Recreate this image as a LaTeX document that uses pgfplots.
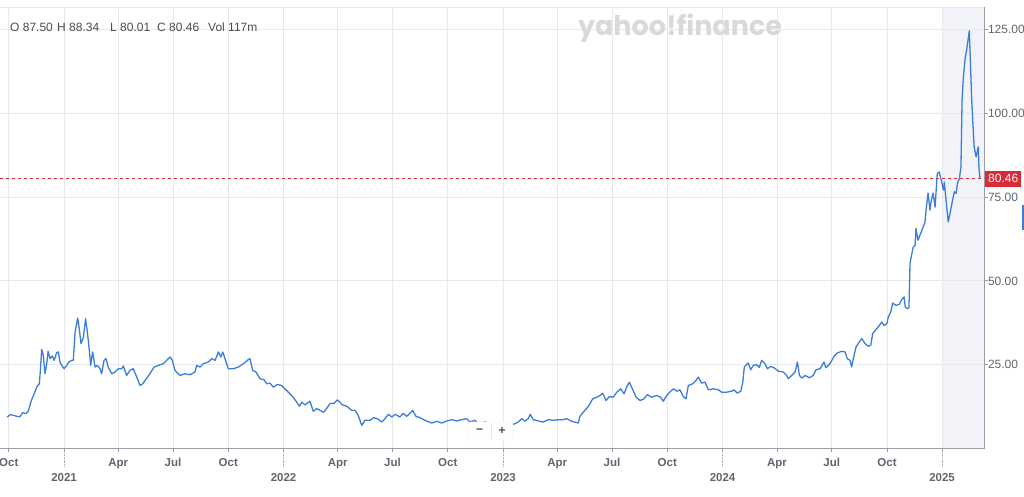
\documentclass[border=0pt]{standalone}
\usepackage{pgfplots}
\pgfplotsset{compat=1.18}
\usepackage{fontspec}
\setmainfont{Liberation Sans}
\newfontfamily\wmfont{Poppins}
\definecolor{gridc}{HTML}{E8E9EA}
\definecolor{axisc}{HTML}{9A9DA1}
\definecolor{labc}{HTML}{5F666E}
\definecolor{linec}{HTML}{3C7DD9}
\definecolor{redc}{HTML}{D72B35}
\definecolor{shadec}{HTML}{F1F3F8}
\definecolor{ohlc}{HTML}{474D54}
\definecolor{wmc}{HTML}{D8D9DB}
% x = years since 1 Jan 2020
\pgfplotstableread{
x y
0.741 9.35
0.754 10.1
0.769 9.9
0.784 9.6
0.799 9.5
0.811 10.7
0.826 10.4
0.837 11.1
0.848 13.8
0.857 15.3
0.864 16.3
0.872 17.8
0.880 18.8
0.887 19.3
0.892 23.3
0.898 29.6
0.905 27.8
0.913 22.3
0.921 25.3
0.927 29.0
0.936 26.8
0.946 27.6
0.955 26.3
0.966 28.6
0.974 28.8
0.981 25.8
0.989 24.8
1.000 23.8
1.012 24.8
1.022 25.8
1.035 26.3
1.042 26.3
1.050 34.7
1.062 38.9
1.069 35.8
1.077 31.3
1.088 33.2
1.098 38.7
1.106 34.7
1.115 29.3
1.121 24.8
1.130 28.8
1.141 24.3
1.151 24.8
1.164 23.8
1.171 22.3
1.182 26.3
1.191 26.8
1.201 24.3
1.217 22.3
1.232 22.8
1.247 23.8
1.262 23.8
1.270 24.6
1.285 21.8
1.300 23.3
1.315 23.8
1.331 21.3
1.346 18.8
1.358 19.3
1.369 20.3
1.391 22.3
1.410 24.3
1.429 24.8
1.452 25.3
1.467 26.3
1.483 27.3
1.493 26.3
1.505 23.3
1.528 21.8
1.551 22.3
1.574 22.0
1.596 22.8
1.604 24.8
1.619 24.3
1.634 25.3
1.657 25.8
1.673 26.8
1.688 26.3
1.703 28.8
1.714 27.3
1.723 28.8
1.733 26.8
1.748 23.8
1.771 23.8
1.794 24.3
1.817 25.3
1.839 26.5
1.847 26.8
1.859 23.3
1.874 22.8
1.893 20.8
1.911 20.5
1.923 19.3
1.938 19.5
1.953 18.3
1.971 19.1
1.991 18.8
2.006 17.8
2.026 16.5
2.044 15.3
2.060 13.8
2.072 12.6
2.083 13.8
2.098 13.0
2.120 14.1
2.135 11.1
2.151 11.9
2.166 11.4
2.181 10.8
2.196 11.9
2.211 13.4
2.230 13.5
2.245 14.5
2.254 14.0
2.265 13.1
2.288 12.6
2.310 11.4
2.325 11.4
2.340 9.9
2.356 6.9
2.371 8.4
2.394 8.4
2.409 9.2
2.427 8.9
2.447 7.9
2.462 8.9
2.477 10.2
2.493 9.4
2.508 10.2
2.530 9.4
2.545 10.5
2.561 9.6
2.576 10.5
2.588 11.4
2.603 9.6
2.621 9.2
2.644 8.4
2.675 7.6
2.698 8.1
2.720 7.6
2.743 8.2
2.766 8.6
2.789 8.2
2.812 8.6
2.834 8.9
2.849 7.9
2.872 8.4
2.887 7.4
2.918 7.9
2.950 7.2
2.986 6.2
3.017 6.9
3.047 7.2
3.069 7.9
3.085 8.9
3.100 8.2
3.115 8.9
3.123 10.2
3.138 8.6
3.161 8.2
3.183 7.9
3.206 8.6
3.229 8.4
3.252 8.6
3.274 8.6
3.290 8.9
3.313 8.1
3.343 7.6
3.350 9.6
3.373 11.4
3.388 12.5
3.408 14.8
3.427 15.3
3.442 15.8
3.454 16.5
3.469 14.3
3.484 15.5
3.502 15.3
3.518 16.8
3.536 17.8
3.551 16.3
3.563 18.3
3.575 19.8
3.591 17.5
3.606 15.3
3.624 14.3
3.642 14.8
3.657 16.1
3.677 15.3
3.700 15.8
3.718 15.3
3.730 14.1
3.745 15.8
3.764 17.1
3.776 17.8
3.791 17.1
3.806 17.5
3.821 15.5
3.833 14.8
3.844 18.8
3.864 19.3
3.879 20.3
3.889 21.3
3.905 19.5
3.920 19.8
3.935 17.5
3.958 17.8
3.981 17.5
3.996 16.8
4.019 16.8
4.042 17.1
4.052 17.5
4.067 16.5
4.083 17.1
4.092 19.8
4.099 24.3
4.110 25.1
4.117 25.5
4.128 23.5
4.140 24.8
4.155 25.0
4.167 24.2
4.178 26.3
4.193 25.3
4.204 23.8
4.219 24.5
4.234 24.1
4.254 23.1
4.277 22.8
4.292 21.8
4.299 20.8
4.315 21.8
4.330 22.8
4.341 25.8
4.350 21.8
4.361 21.0
4.376 21.8
4.395 21.1
4.413 21.8
4.426 23.5
4.444 23.8
4.462 25.8
4.471 24.1
4.489 25.3
4.508 27.5
4.523 28.5
4.543 29.0
4.558 28.8
4.568 26.8
4.581 26.3
4.588 24.3
4.599 27.8
4.608 30.3
4.623 31.8
4.634 32.8
4.649 31.3
4.664 30.5
4.675 30.8
4.684 34.3
4.699 35.5
4.714 36.7
4.725 37.7
4.735 36.7
4.748 37.2
4.755 39.2
4.766 40.7
4.775 43.4
4.790 42.7
4.805 43.0
4.816 44.4
4.827 45.2
4.832 42.2
4.842 41.7
4.849 42.0
4.854 55.3
4.868 60.0
4.877 60.6
4.881 65.7
4.890 62.1
4.908 65.1
4.922 67.5
4.927 71.1
4.936 76.2
4.945 71.1
4.951 74.0
4.959 76.2
4.968 72.0
4.978 82.0
4.987 82.5
4.998 79.5
5.006 77.1
5.010 79.5
5.021 72.1
5.028 67.6
5.036 70.1
5.048 74.1
5.056 76.6
5.064 76.1
5.070 79.1
5.079 80.6
5.086 84.0
5.091 103.9
5.097 110.9
5.105 116.4
5.112 118.9
5.124 124.6
5.135 103.9
5.146 90.0
5.155 87.0
5.165 90.0
5.168 83.5
5.173 80.5
}\price
\begin{document}
\begin{tikzpicture}[x=1pt,y=1pt]
\begin{axis}[
  set layers=standard,
  scale only axis, width=984pt, height=441.5pt,
  at={(0pt,48.5pt)}, anchor=south west,
  xmin=0.708, xmax=5.191, ymin=0, ymax=131.7,
  clip=false,
  axis line style={draw=none},
  xtick={0.748,1.247,1.496,1.748,2.247,2.496,2.748,3.247,3.496,3.748,4.248,4.497,4.749},
  xticklabels={Oct,Apr,Jul,Oct,Apr,Jul,Oct,Apr,Jul,Oct,Apr,Jul,Oct},
  extra x ticks={1,2,3,4,5},
  extra x tick labels={2021,2022,2023,2024,2025},
  extra x tick style={grid=major, xticklabel style={yshift=-14.5pt}},
  xtick pos=bottom, ytick pos=right,
  tick align=outside,
  major tick length=4pt,
  tick style={color=axisc, line width=0.8pt},
  ytick={25,50,75,100,125},
  yticklabel pos=right,
  yticklabel={\pgfmathprintnumber[fixed,fixed zerofill,precision=2]{\tick}},
  /pgf/number format/assume math mode=true,
  grid=major, major grid style={gridc, line width=0.8pt},
  xticklabel style={font=\fontsize{11.5}{13}\selectfont\bfseries, text=labc, anchor=north, yshift=-2.5pt},
  yticklabel style={font=\fontsize{12}{13}\selectfont, text=labc, anchor=west, xshift=-3.5pt},
]
\begin{pgfonlayer}{axis background}
\fill[shadec] (axis cs:5,0) rectangle (axis cs:5.191,131.7);
\end{pgfonlayer}
\draw[gridc, line width=0.8pt] (rel axis cs:0,1) -- (rel axis cs:1,1);
\draw[axisc, line width=1pt] (rel axis cs:0,0) -- (rel axis cs:1,0) -- (rel axis cs:1,1);
\draw[axisc, densely dotted, line width=0.8pt] ([yshift=-5pt]axis cs:1,0) -- ([yshift=-18pt]axis cs:1,0);
\draw[axisc, densely dotted, line width=0.8pt] ([yshift=-5pt]axis cs:2,0) -- ([yshift=-18pt]axis cs:2,0);
\draw[axisc, densely dotted, line width=0.8pt] ([yshift=-5pt]axis cs:3,0) -- ([yshift=-18pt]axis cs:3,0);
\draw[axisc, densely dotted, line width=0.8pt] ([yshift=-5pt]axis cs:4,0) -- ([yshift=-18pt]axis cs:4,0);
\draw[axisc, densely dotted, line width=0.8pt] ([yshift=-5pt]axis cs:5,0) -- ([yshift=-18pt]axis cs:5,0);
\addplot[redc, line width=0.7pt, dash pattern=on 3pt off 3pt] coordinates {(0.708,80.46) (5.191,80.46)};
\addplot[linec, line width=1.3pt, line join=round] table[x=x,y=y] {\price};
\node[fill=redc, text=white, anchor=west, inner xsep=3pt, inner ysep=0pt, minimum height=15.5pt, font=\fontsize{12}{13}\selectfont, xshift=1pt] at (axis cs:5.191,80.46) {80.46};
\end{axis}
% watermark and header
\node[text=wmc, font=\wmfont\bfseries\fontsize{27}{27}\selectfont, inner sep=0pt] at (680,469) {yahoo!finance};
\begin{scope}[every node/.style={anchor=west, inner sep=0pt, text=ohlc, font=\fontsize{12}{13}\selectfont}]
\node at (10,470) {O 87.50};
\node at (57,470) {H 88.34};
\node at (110,470) {L 80.01};
\node at (157,470) {C 80.46};
\node at (208,470) {Vol 117m};
\end{scope}
% zoom buttons
\draw[fill=white, draw=gridc, rounded corners=2pt] (468,57) rectangle (513,75);
\draw[gridc] (491,58) -- (491,74);
\node[text=ohlc, font=\bfseries\fontsize{12}{12}\selectfont] at (479.5,66) {−};
\node[text=ohlc, font=\bfseries\fontsize{12}{12}\selectfont] at (502,66) {+};
\fill[linec] (1022,267) rectangle (1024,292);
\pgfresetboundingbox
\path[use as bounding box] (0,0) rectangle (1024,497);
\end{tikzpicture}
\end{document}
